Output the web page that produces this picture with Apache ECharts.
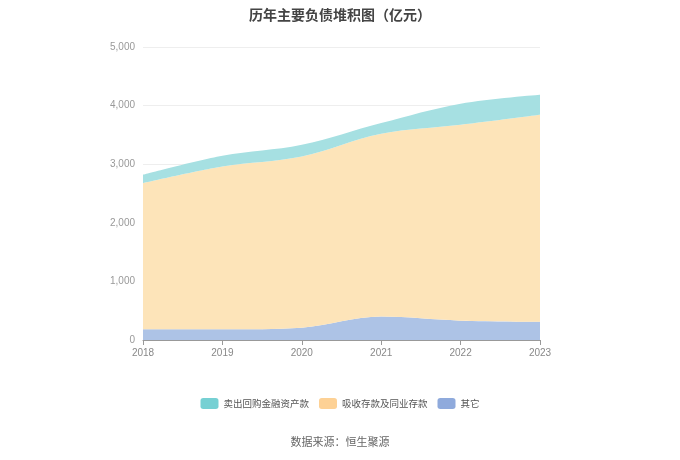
<!DOCTYPE html>
<html><head><meta charset="utf-8">
<script src="https://cdn.jsdelivr.net/npm/echarts@6/dist/echarts.min.js"></script>
<style>html,body{margin:0;padding:0;background:#fff}#c{width:680px;height:460px}</style>
</head><body><div id="c"></div>
<script>
var years = ['2018','2019','2020','2021','2022','2023'];
var repoAssets = [142, 182, 199, 183, 359, 342];
var deposits = [2495, 2779, 2921, 3120, 3343, 3531];
var others = [182, 182, 211, 399, 330, 313];
var names = ['卖出回购金融资产款', '吸收存款及同业存款', '其它'];
var chart = echarts.init(document.getElementById('c'));
function s(name, data, color, areaColor) {
  return {name: name, type: 'line', stack: 'total', smooth: 0.35, symbol: 'none', data: data,
    itemStyle: {color: color}, lineStyle: {width: 0}, areaStyle: {color: areaColor, opacity: 1}};
}
chart.setOption({
  animation: false,
  title: {text: '历年主要负债堆积图（亿元）', left: 'center', top: 3,
    textStyle: {fontSize: 14, fontWeight: 'bold', color: '#444', fontFamily: 'Noto Sans CJK SC'}},
  legend: {data: names, bottom: 46, left: 'center', itemWidth: 18, itemHeight: 11, itemGap: 10,
    textStyle: {fontSize: 9.5, color: '#555', fontFamily: 'Noto Sans CJK SC'}, icon: 'roundRect'},
  grid: {left: 143, right: 140, top: 47, bottom: 120},
  xAxis: {type: 'category', data: years, boundaryGap: false,
    axisLine: {lineStyle: {color: '#999'}}, axisTick: {lineStyle: {color: '#999'}},
    axisLabel: {color: '#888', fontSize: 10}},
  yAxis: {type: 'value', min: 0, max: 5000, interval: 1000,
    axisLine: {show: false}, axisTick: {show: false},
    axisLabel: {color: '#999', fontSize: 10, formatter: function(v){return v.toLocaleString('en-US');}},
    splitLine: {lineStyle: {color: '#eee'}}},
  series: [
    s(names[2], others, '#8faadc', '#adc3e6'),
    s(names[1], deposits, '#fdd195', '#fde4b9'),
    s(names[0], repoAssets, '#76d0d3', '#a6e0e2')
  ],
  graphic: [{type: 'text', left: 'center', top: 436,
    style: {text: '数据来源：恒生聚源', fontSize: 11, fill: '#666', fontFamily: 'Noto Sans CJK SC'}}]
});
</script></body></html>
